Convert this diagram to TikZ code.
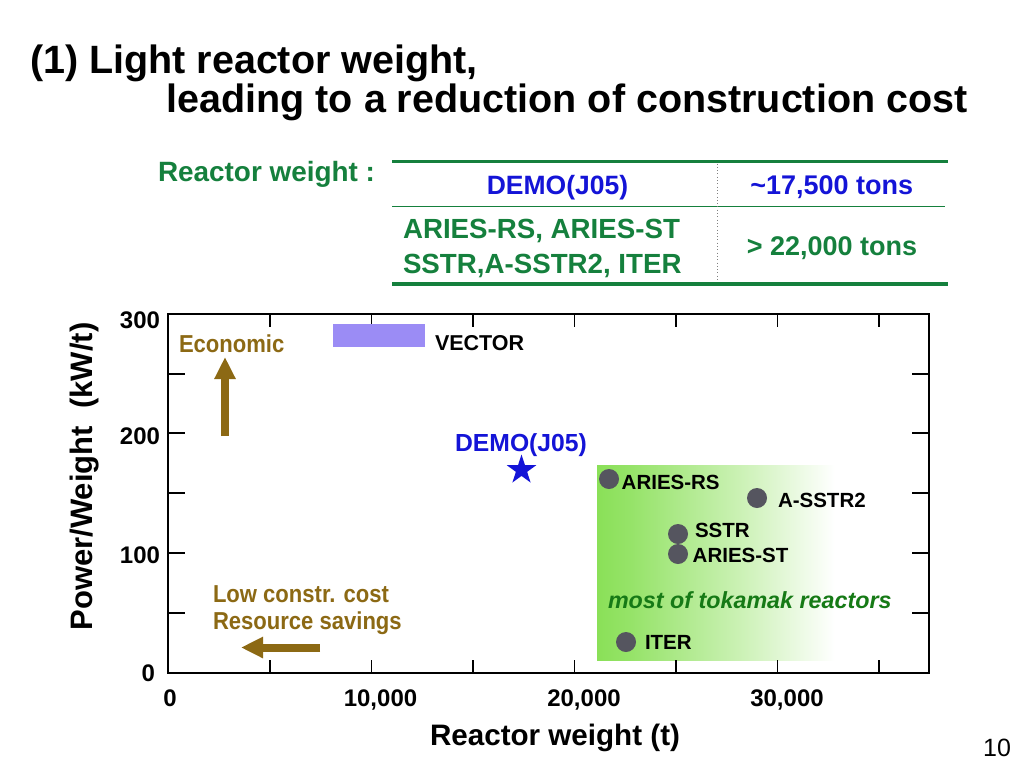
\documentclass[tikz,border=0pt]{standalone}
\usepackage{fontspec}
\setmainfont{Liberation Sans}
\newfontfamily\condfont[FakeStretch=0.9]{Liberation Sans}
\usetikzlibrary{arrows.meta,shapes.geometric}
\definecolor{tgreen}{RGB}{21,128,61}
\definecolor{tblue}{RGB}{20,20,215}
\definecolor{tbrown}{RGB}{140,105,20}
\definecolor{lav}{RGB}{155,140,245}
\definecolor{dgray}{RGB}{85,85,95}
\definecolor{lgreen}{RGB}{138,224,88}
\definecolor{igreen}{RGB}{22,122,22}
\pgfdeclarehorizontalshading{gfade}{100bp}{color(0bp)=(lgreen); color(25bp)=(lgreen); color(31bp)=(lgreen!90!white); color(50bp)=(lgreen!45!white); color(67bp)=(white); color(100bp)=(white)}
\tikzset{
  txt/.style={inner sep=0pt, outer sep=0pt},
  fsz/.style={font=\fontsize{#1}{#1}\selectfont\bfseries},
  csz/.style={font=\condfont\fontsize{#1}{#1}\selectfont\bfseries},
  lbl/.style={txt, fsz=20.5, anchor=base west},
  pt/.style={circle, fill=dgray, minimum size=20pt, inner sep=0pt},
  tick/.style={line width=1.3pt},
  thickrule/.style={tgreen, line width=3.5pt},
  thinrule/.style={tgreen, line width=1.3pt},
  blockarrow/.style={tbrown, line width=8pt, -{Triangle[width=20pt,length=22pt]}},
}
\begin{document}
\begin{tikzpicture}[x=1pt,y=-1pt]
\fill[white] (0,0) rectangle (1024,768);
\useasboundingbox (0,0) rectangle (1024,768);

% title
\node[txt, fsz=39.5, anchor=base west] (t1) at (30,74) {(1) Light reactor weight,};
\node[txt, fsz=39.5, anchor=base west] (t2) at (166.5,112) {leading to a reduction of construction cost};

% table
\node[txt, fsz=27.9, text=tgreen, anchor=base west] (rw) at (158,181.7) {Reactor weight :};
\coordinate (r1a) at (392,161.5); \coordinate (r1b) at (948,161.5);
\coordinate (r2a) at (392,206.5); \coordinate (r2b) at (945,206.5);
\coordinate (r3a) at (392,284);   \coordinate (r3b) at (948,284);
\coordinate (d1) at (717,163.5);  \coordinate (d2) at (717,282);
\draw[thickrule] (r1a) -- (r1b);
\draw[thinrule] (r2a) -- (r2b);
\draw[thickrule] (r3a) -- (r3b);
\draw[gray, line width=0.9pt, dash pattern=on 0.9pt off 2.4pt] (d1) -- (d2);
\node[txt, fsz=26.5, text=tblue, anchor=base] (c11) at (557.5,194) {DEMO(J05)};
\node[txt, fsz=27, text=tblue, anchor=base] (c12) at (831.7,194) {\textasciitilde17,500 tons};
\node[txt, fsz=27.7, text=tgreen, anchor=base west] (c21a) at (403,238.3) {ARIES-RS, ARIES-ST};
\node[txt, fsz=27.7, text=tgreen, anchor=base west] (c21b) at (403,273.3) {SSTR,A-SSTR2, ITER};
\node[txt, fsz=27, text=tgreen, anchor=base] (c22) at (832,255) {> 22,000 tons};

% green region
\shade[shading=gfade] (597,465) rectangle (880,660);

% frame and ticks
\draw[line width=1.5pt] (168,314) rectangle (929,673);
\foreach \yy in {374,433,493,553,613} {
  \draw[tick] (168,\yy) -- (185,\yy);
  \draw[tick] (929,\yy) -- (912,\yy);
}
\foreach \xx in {270,371.5,473,574.5,676,777.5,879} {
  \draw[tick] (\xx,673) -- (\xx,660);
  \draw[tick] (\xx,314) -- (\xx,327);
}

% tick labels
\node[txt, fsz=24, anchor=base east] (y300) at (160,328) {300};
\node[txt, fsz=24, anchor=base east] (y200) at (160,444) {200};
\node[txt, fsz=24, anchor=base east] (y100) at (160,563) {100};
\node[txt, fsz=24, anchor=base east] (y0) at (155,681) {0};
\node[txt, fsz=24, anchor=base] (x0) at (170,706) {0};
\node[txt, fsz=24, anchor=base] (x10) at (380.5,706) {10,000};
\node[txt, fsz=24, anchor=base] (x20) at (584,706) {20,000};
\node[txt, fsz=24, anchor=base] (x30) at (787,706) {30,000};

% axis titles
\node[txt, fsz=29.6, anchor=base] (xlab) at (555,745) {Reactor weight (t)};
\node[txt, fsz=31, rotate=90, anchor=base] (ylab) at (92,476.5) {Power/Weight\ \ (kW/t)};

% VECTOR
\fill[lav] (333,324) rectangle (425,347);
\node[txt, fsz=21.5, anchor=base west] (vec) at (435,350) {VECTOR};

% DEMO
\node[txt, fsz=24.7, text=tblue, anchor=base] (demo) at (521,451.7) {DEMO(J05)};
\node[star, star points=5, star point ratio=2.618, fill=tblue, minimum size=31pt, inner sep=0pt] (demostar) at (521.5,470) {};

% points
\node[pt] (p-ariesrs) at (609,479) {};
\node[pt] (p-asstr2) at (757,498) {};
\node[pt] (p-sstr) at (678,534) {};
\node[pt] (p-ariesst) at (678,554) {};
\node[pt] (p-iter) at (626,642) {};
\node[lbl] (l-ariesrs) at (621.7,489) {ARIES-RS};
\node[lbl] (l-asstr2) at (778,507) {A-SSTR2};
\node[lbl] (l-sstr) at (695,537) {SSTR};
\node[lbl] (l-ariesst) at (692.7,562) {ARIES-ST};
\node[lbl] (l-iter) at (645,649) {ITER};
\node[txt, font=\fontsize{23.3}{23.3}\selectfont\bfseries\itshape, text=igreen, anchor=base west] (most) at (608,608) {most of tokamak reactors};

% economic arrow
\node[txt, csz=24.5, text=tbrown, anchor=base west] (econ) at (179,352.7) {Economic};
\coordinate (ea0) at (225,436);
\coordinate (ea1) at (225,357);
\draw[blockarrow] (ea0) -- (ea1);

% low cost arrow
\node[txt, csz=24.5, text=tbrown, anchor=base west] (low1) at (213,602.7) {Low constr. cost};
\node[txt, csz=24.5, text=tbrown, anchor=base west] (low2) at (213,629.3) {Resource savings};
\coordinate (la0) at (320,647.5);
\coordinate (la1) at (241,647.5);
\draw[blockarrow] (la0) -- (la1);

% page number
\node[txt, font=\fontsize{25}{25}\selectfont, anchor=base east] (pg) at (1011,756) {10};
\end{tikzpicture}
\end{document}
